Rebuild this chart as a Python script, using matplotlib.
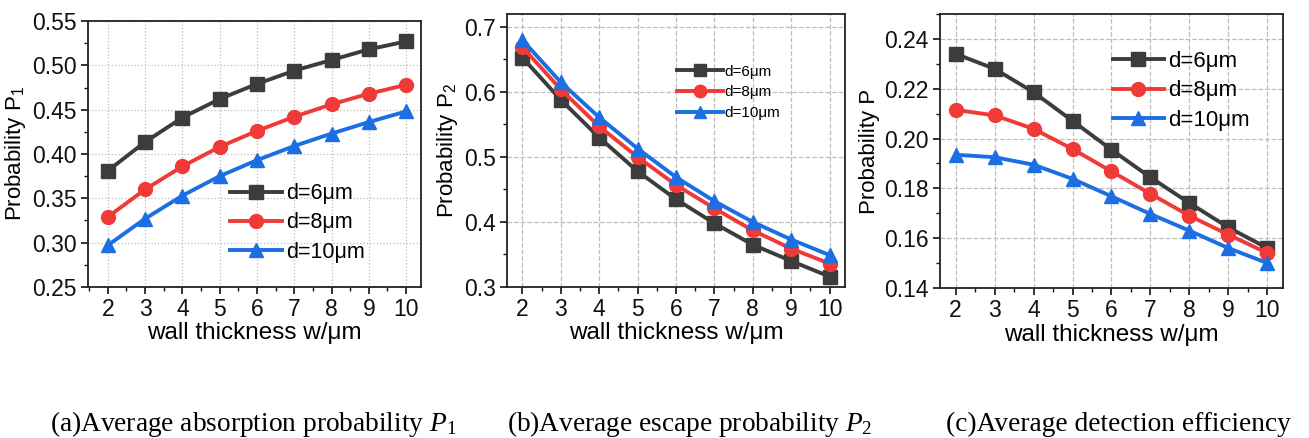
import matplotlib.pyplot as plt
from matplotlib.ticker import MultipleLocator

plt.rcParams['font.family'] = ['Liberation Sans', 'DejaVu Sans']
plt.rcParams['mathtext.fontset'] = 'custom'
plt.rcParams['mathtext.rm'] = 'Liberation Serif'
plt.rcParams['mathtext.it'] = 'Liberation Serif:italic'
plt.rcParams['mathtext.sf'] = 'Liberation Sans'

# data
w = [2, 3, 4, 5, 6, 7, 8, 9, 10]
labels = ['d=6μm', 'd=8μm', 'd=10μm']

p1_d6 = [0.381, 0.4135, 0.441, 0.462, 0.479, 0.494, 0.506, 0.518, 0.527]
p1_d8 = [0.329, 0.360, 0.386, 0.408, 0.426, 0.442, 0.456, 0.468, 0.478]
p1_d10 = [0.297, 0.327, 0.353, 0.375, 0.393, 0.409, 0.423, 0.436, 0.448]

p2_d6 = [0.653, 0.588, 0.530, 0.478, 0.435, 0.398, 0.365, 0.340, 0.316]
p2_d8 = [0.669, 0.604, 0.547, 0.500, 0.457, 0.421, 0.387, 0.359, 0.336]
p2_d10 = [0.680, 0.615, 0.561, 0.513, 0.469, 0.432, 0.400, 0.373, 0.349]

p_d6 = [0.234, 0.228, 0.2186, 0.2071, 0.1955, 0.1844, 0.1741, 0.1643, 0.156]
p_d8 = [0.2115, 0.2093, 0.2039, 0.1958, 0.1868, 0.1778, 0.169, 0.1614, 0.154]
p_d10 = [0.1935, 0.1925, 0.1895, 0.1838, 0.1768, 0.1697, 0.163, 0.156, 0.150]

colors = ['#3c3c3c', '#f03a37', '#1b6fe3']
markers = ['s', 'o', '^']

fig = plt.figure(figsize=(13.09, 4.38), dpi=100)

def px_axes(left, top, right, bottom):
    W, H = 1309, 438
    return fig.add_axes([left / W, 1 - bottom / H, (right - left) / W, (bottom - top) / H])

def draw(ax, series, ylim, ystep, yfmt, ylabel, grid_ls, xlim):
    for ys, c, m, lab in zip(series, colors, markers, labels):
        ax.plot(w, ys, color=c, marker=m, markersize=10, lw=2.8, label=lab)
    ax.set_xlim(*xlim)
    ax.set_ylim(*ylim)
    ax.xaxis.set_major_locator(MultipleLocator(1))
    ax.xaxis.set_minor_locator(MultipleLocator(0.5))
    ax.yaxis.set_major_locator(MultipleLocator(ystep))
    ax.yaxis.set_minor_locator(MultipleLocator(ystep / 2))
    ax.yaxis.set_major_formatter(plt.FormatStrFormatter(yfmt))
    ax.tick_params(which='major', direction='out', length=5, width=1.2, labelsize=16.5,
                   colors='#111111', pad=3)
    ax.tick_params(which='minor', direction='out', length=3, width=1.0, colors='#111111')
    ax.grid(True, which='major', color='#bdbdbd', ls=grid_ls, lw=0.9)
    ax.set_axisbelow(True)
    for s in ax.spines.values():
        s.set_color('#222222')
        s.set_linewidth(1.3)
    ax.set_xlabel('wall thickness w/μm', fontsize=17.5, labelpad=1)
    ax.set_ylabel(ylabel, fontsize=16, labelpad=3)

ax1 = px_axes(88, 21, 421, 287)
draw(ax1, [p1_d6, p1_d8, p1_d10], (0.25, 0.55), 0.05, '%.2f', 'Probability P$_\\mathsf{1}$', ':', (1.47, 10.4))
ax1.legend(loc='upper left', bbox_to_anchor=(0.426, 0.39), frameon=False, fontsize=15.5,
           borderpad=0, borderaxespad=0, handlelength=2.4, handletextpad=0.2, labelspacing=0.38)

ax2 = px_axes(507, 14, 845, 287)
draw(ax2, [p2_d6, p2_d8, p2_d10], (0.3, 0.72), 0.1, '%.1f', 'Probability P$_\\mathsf{2}$', '--', (1.6, 10.4))
ax2.legend(loc='upper left', bbox_to_anchor=(0.503, 0.815), frameon=False, fontsize=11,
           borderpad=0, borderaxespad=0, handlelength=3.0, handletextpad=0.1,
           labelspacing=0.45, markerscale=0.9)

ax3 = px_axes(940, 14, 1283, 288)
draw(ax3, [p_d6, p_d8, p_d10], (0.14, 0.25), 0.02, '%.2f', 'Probability P', '--', (1.6, 10.4))
ax3.legend(loc='upper left', bbox_to_anchor=(0.504, 0.865), frameon=False, fontsize=16,
           borderpad=0, borderaxespad=0, handlelength=2.3, handletextpad=0.2, labelspacing=0.38)

cap = dict(fontsize=19.7, family='Liberation Serif', va='center', ha='left')
fig.text(50 / 1309, 1 - 424 / 438, '(a)Average absorption probability $\\mathit{P}_\\mathrm{1}$', **cap)
fig.text(507 / 1309, 1 - 424 / 438, '(b)Average escape probability $\\mathit{P}_\\mathrm{2}$', **cap)
fig.text(946 / 1309, 1 - 424 / 438, '(c)Average detection efficiency', **cap)

fig.savefig('out.png', dpi=100)
